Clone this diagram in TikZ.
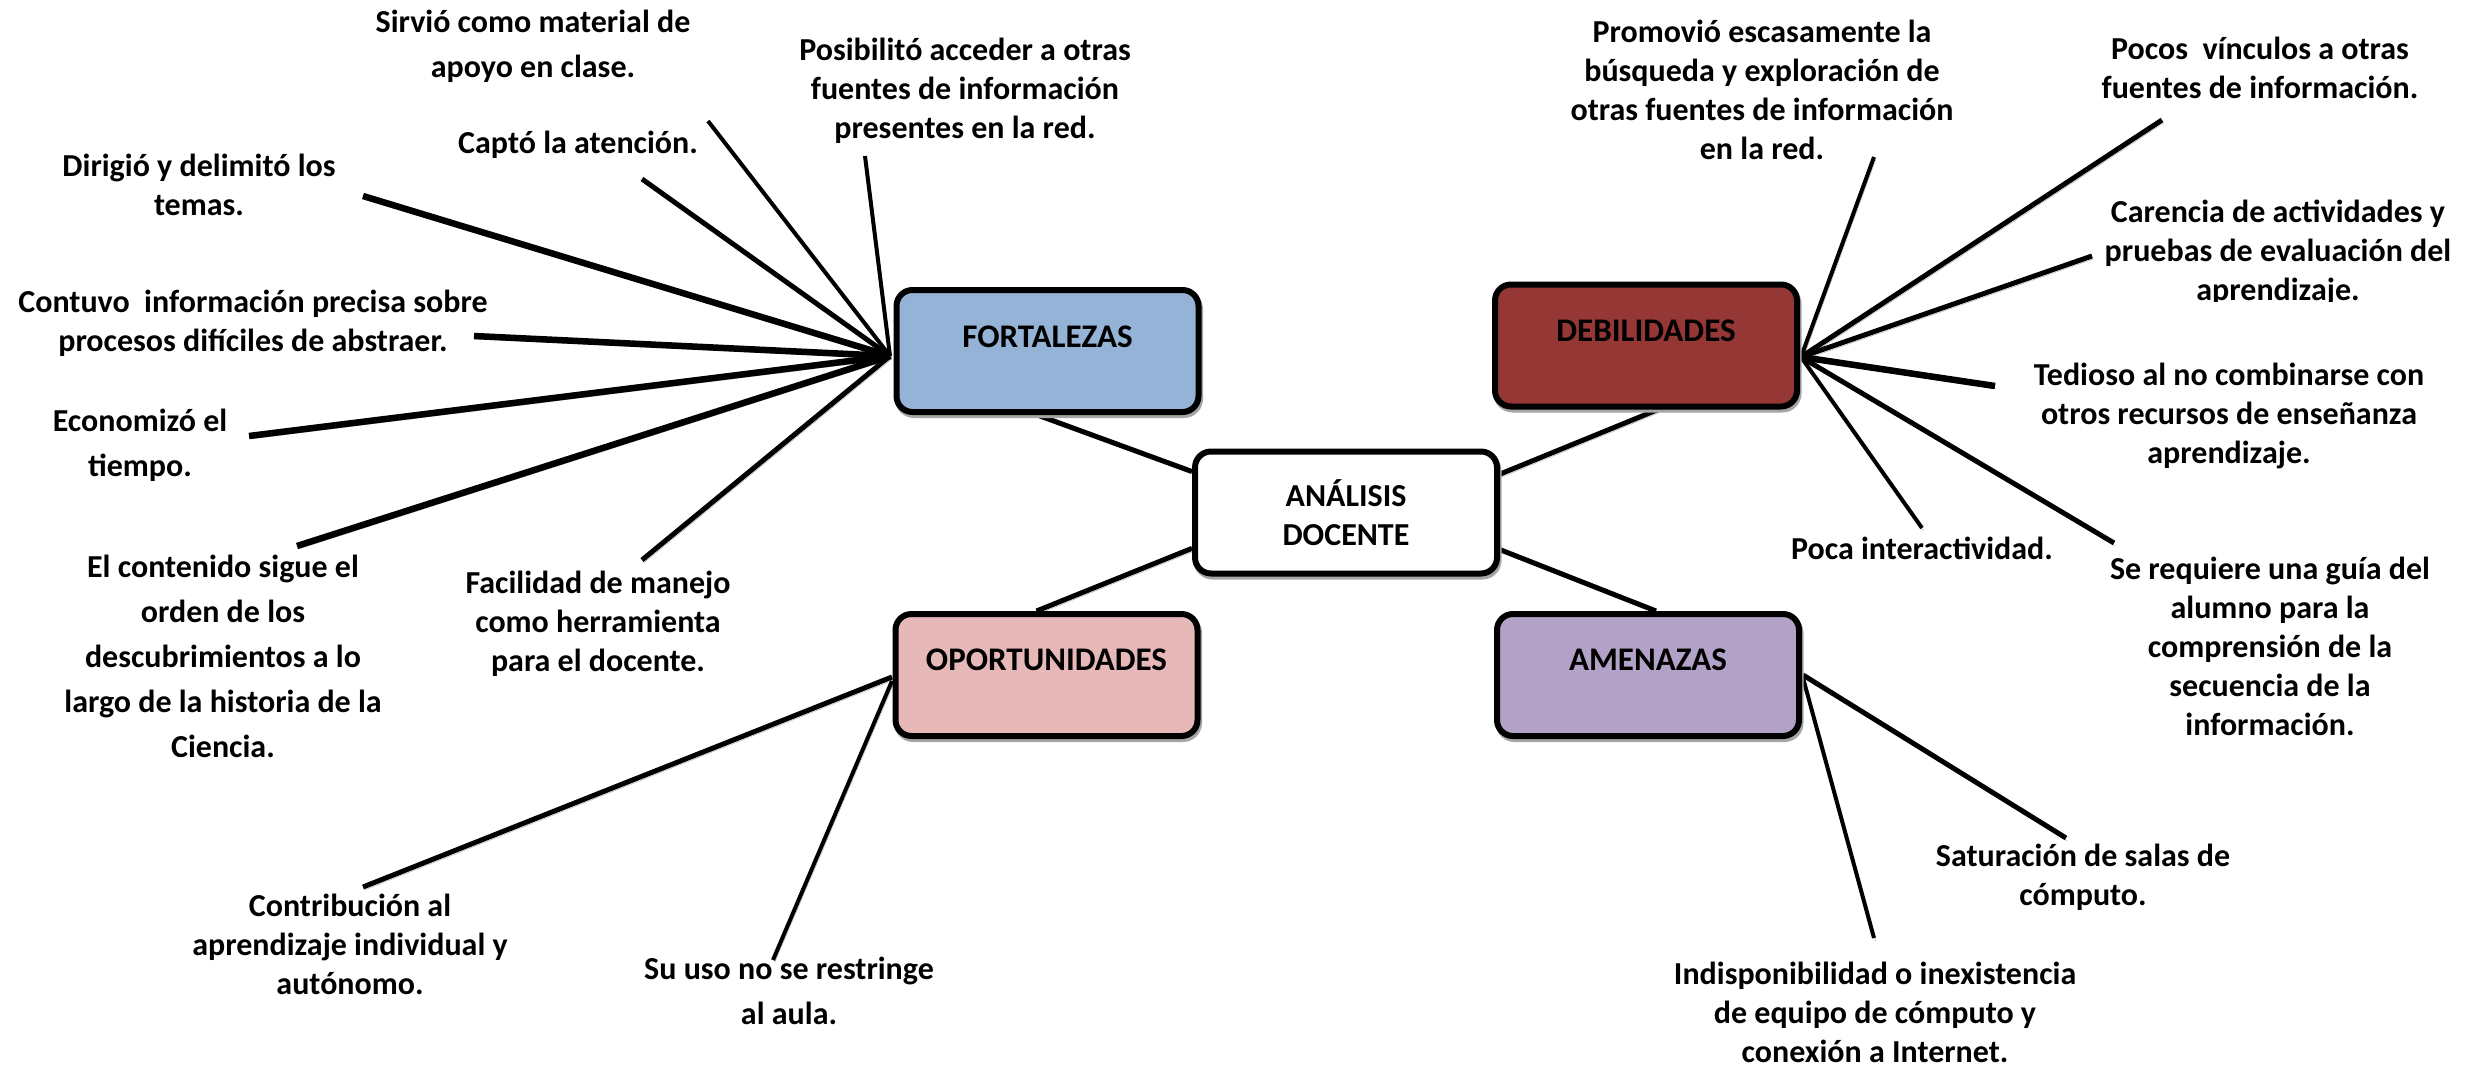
\documentclass[tikz,border=0pt]{standalone}
\usepackage{fontspec}
\setmainfont{Carlito}
\usetikzlibrary{calc}
\pgfdeclarelayer{bg}
\pgfsetlayers{bg,main}
\definecolor{fort}{HTML}{95B3D7}
\definecolor{debi}{HTML}{953735}
\definecolor{opor}{HTML}{E6B9B8}
\definecolor{amen}{HTML}{B3A2C7}
\definecolor{shd}{HTML}{A6A6A6}
\tikzset{
 shadowed/.style={preaction={draw=shd, transform canvas={shift={(1.5pt,-3pt)}}}},
 conn/.style={shadowed, line width=5pt},
 thickc/.style={shadowed, line width=6.5pt},
 thinc/.style={shadowed, line width=4pt},
 box/.style={draw, line width=6pt, rounded corners=16pt, minimum width=302pt, minimum height=122pt, shadowed, inner sep=0pt},
 txt/.style={align=center, inner sep=0pt, font=\bfseries\fontsize{32}{39}\selectfont},
 txtw/.style={align=center, inner sep=0pt, font=\bfseries\fontsize{32}{45}\selectfont},
 boxlab/.style={inner sep=0pt, font=\bfseries\fontsize{33}{39}\selectfont}
}
\begin{document}
\begin{tikzpicture}[x=1pt,y=-1pt]
\begin{pgfonlayer}{bg}
\fill[white] (0,0) rectangle (2484,1068);
\end{pgfonlayer}
\useasboundingbox (0,0) rectangle (2484,1068);

% main boxes
\node[box, fill=fort, label={[boxlab, yshift=14pt]center:FORTALEZAS}] (F) at (1047.5,351) {};
\node[box, fill=debi, label={[boxlab, yshift=15pt]center:DEBILIDADES}] (D) at (1646,345.5) {};
\node[box, fill=opor, label={[boxlab, yshift=15pt]center:OPORTUNIDADES}] (O) at (1046.5,675) {};
\node[box, fill=amen, label={[boxlab, yshift=15pt]center:AMENAZAS}] (M) at (1648,675) {};
\node[box, fill=white, align=center, font=\bfseries\fontsize{32}{39}\selectfont] (A) at (1346,512.5) {ANÁLISIS\\DOCENTE};

% hubs
\coordinate (Fh) at (890,356);
\coordinate (Dh) at (1801,357);
\coordinate (Oh) at (892,677);
\coordinate (Mh) at (1803,675);

% leaf texts
\node[txtw] (t1) at (533,46.5) {Sirvió como material de\\apoyo en clase.};
\node[txt] (t2) at (965,91) {Posibilitó acceder a otras\\fuentes de información\\presentes en la red.};
\node[txt] (t3) at (578,145) {Captó la atención.};
\node[txt] (t4) at (199,185) {Dirigió y delimitó los\\temas.};
\node[txt] (t5) at (253,323.5) {Contuvo~ información precisa sobre\\procesos difíciles de abstraer.};
\node[txtw] (t6) at (140,445) {Economizó el\\tiempo.};
\node[txtw] (t7) at (223,656) {El contenido sigue el\\orden de los\\descubrimientos a lo\\largo de la historia de la\\Ciencia.};
\node[txt] (t8) at (598,624) {Facilidad de manejo\\como herramienta\\para el docente.};
\node[txt] (t9) at (350,944) {Contribución al\\aprendizaje individual y\\autónomo.};
\node[txtw] (t10) at (789,991) {Su uso no se restringe\\al aula.};
\node[txt] (t11) at (1762,89.5) {Promovió escasamente la\\búsqueda y exploración de\\otras fuentes de información\\en la red.};
\node[txt] (t12) at (2260,67.5) {Pocos~ vínculos a otras\\fuentes de información.};
\begin{scope}
\clip (2100,190) rectangle (2480,301);
\node[txt] (t13) at (2278,253) {Carencia de actividades y\\pruebas de evaluación del\\aprendizaje.};
\end{scope}
\node[txt] (t14) at (2229,415.5) {Tedioso al no combinarse con\\otros recursos de enseñanza\\aprendizaje.};
\node[txt] (t15) at (1922,548) {Poca interactividad.};
\node[txt] (t16) at (2270,646) {Se requiere una guía del\\alumno para la\\comprensión de la\\secuencia de la\\información.};
\node[txt] (t17) at (2083,877.5) {Saturación de salas de\\cómputo.};
\node[txt] (t18) at (1875,1012) {Indisponibilidad o inexistencia\\de equipo de cómputo y\\conexión a Internet.};

% free ends of leaf connectors
\coordinate (e1) at (708,121);
\coordinate (e2) at (642,179);
\coordinate (e3) at (865,156);
\coordinate (e4) at (363,196);
\coordinate (e5) at (474,336);
\coordinate (e6) at (249,436);
\coordinate (e7) at (297,546);
\coordinate (e8) at (642,560);
\coordinate (e9) at (363,887);
\coordinate (e10) at (773,960);
\coordinate (e11) at (1874,157);
\coordinate (e12) at (2162,120);
\coordinate (e13) at (2092,256);
\coordinate (e14) at (1995,386);
\coordinate (e15) at (1922,528);
\coordinate (e16) at (2114,543);
\coordinate (e17) at (2066,838);
\coordinate (e18) at (1874,938);

\begin{pgfonlayer}{bg}
% center connectors
\draw[conn] ($(F.south)+(-10,0)$) -- ($(A.north west)!0.18!(A.south west)$);
\draw[conn] ($(D.south)+(12,0)$) -- ($(A.north east)!0.2!(A.south east)$);
\draw[conn] ($(O.north)+(-10,0)$) -- ($(A.north west)!0.78!(A.south west)$);
\draw[conn] ($(M.north)+(8,0)$) -- ($(A.north east)!0.79!(A.south east)$);
% fortalezas
\draw[thinc] (Fh) -- (e1);
\draw[conn] (Fh) -- (e2);
\draw[thinc] (Fh) -- (e3);
\draw[thickc] (Fh) -- (e4);
\draw[thickc] (Fh) -- (e5);
\draw[thickc] (Fh) -- (e6);
\draw[thickc] (Fh) -- (e7);
\draw[conn] (Fh) -- (e8);
% oportunidades
\draw[conn] (Oh) -- (e9);
\draw[thinc] ($(Oh)+(0,4)$) -- (e10);
% debilidades
\draw[thinc] (Dh) -- (e11);
\draw[conn] (Dh) -- (e12);
\draw[conn] (Dh) -- (e13);
\draw[thickc] (Dh) -- (e14);
\draw[thinc] (Dh) -- (e15);
\draw[conn] (Dh) -- (e16);
% amenazas
\draw[conn] (Mh) -- (e17);
\draw[thinc] ($(Mh)+(0,3)$) -- (e18);
\end{pgfonlayer}
\end{tikzpicture}
\end{document}
